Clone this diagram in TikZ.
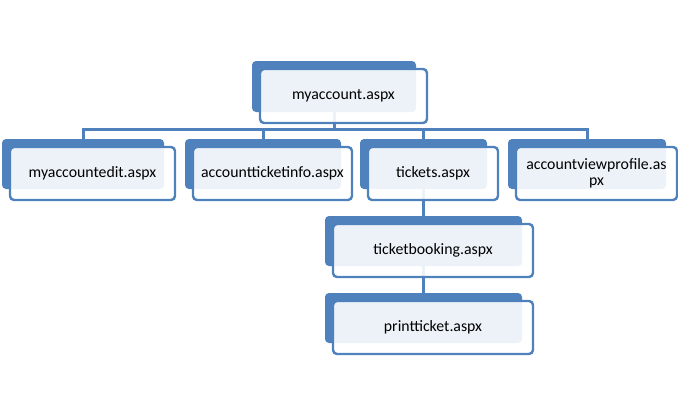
\documentclass[tikz,border=0pt]{standalone}
\usepackage{fontspec}
\setmainfont{Carlito}
\usetikzlibrary{backgrounds}
\definecolor{sablue}{HTML}{4F81BD}
\tikzset{
  backbox/.style={fill=sablue, rounded corners=4pt, inner sep=0pt, outer sep=0pt},
  frontbox/.style={draw=sablue, line width=2.4pt, fill=white, fill opacity=0.9, text opacity=1,
    rounded corners=4pt, inner sep=0pt, outer sep=0pt, align=center,
    font=\fontsize{15.8}{16.5}\selectfont, text=black},
  conn/.style={draw=sablue, line width=3pt}
}
\newcommand\orgbox[6]{%
  \node[backbox, anchor=north west, minimum width={#4-#2-3}, minimum height={#5-#3-3}] (#1B) at ({#2-8},{-#3+8}) {};
  \node[frontbox, anchor=north west, minimum width={#4-#2}, minimum height={#5-#3}] (#1) at ({#2},{-#3}) {#6};
}
\begin{document}
\begin{tikzpicture}[x=1pt,y=1pt]
\useasboundingbox (0,0) rectangle (678,-415);
\orgbox{top}{260}{69}{427}{123}{myaccount.aspx}
\orgbox{ca}{10}{147}{175}{200}{myaccountedit.aspx}
\orgbox{cb}{193}{147}{352}{200}{accountticketinfo.aspx}
\orgbox{cc}{368}{147}{498}{200}{tickets.aspx}
\orgbox{cd}{516}{147}{677}{200}{accountviewprofile.as\\px}
\orgbox{da}{333}{224}{533}{277}{ticketbooking.aspx}
\orgbox{db}{333}{301}{533}{354}{printticket.aspx}
\coordinate (bus) at (0,-129);
\begin{pgfonlayer}{background}
  \draw[conn] (topB.center) -- (topB.center |- bus);
  \draw[conn] (caB.center) -- (caB.center |- bus) -- (cdB.center |- bus) -- (cdB.center);
  \draw[conn] (cbB.center) -- (cbB.center |- bus);
  \draw[conn] (ccB.center) -- (ccB.center |- bus);
  \draw[conn] (ccB.center) -- (daB.center);
  \draw[conn] (daB.center) -- (dbB.center);
\end{pgfonlayer}
\end{tikzpicture}
\end{document}
